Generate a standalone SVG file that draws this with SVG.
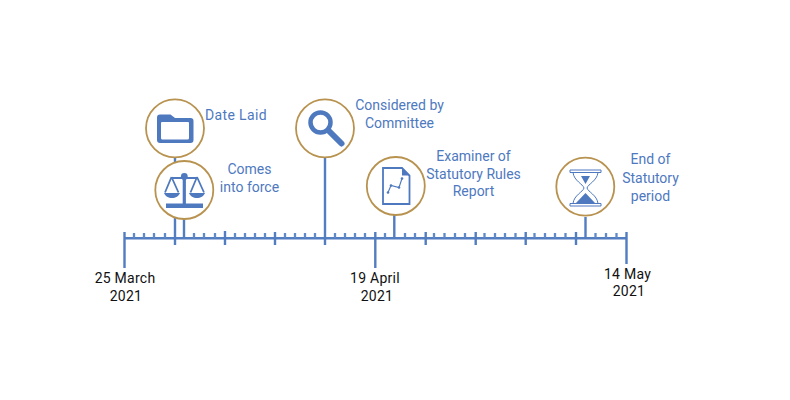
<svg xmlns="http://www.w3.org/2000/svg" width="790" height="400" viewBox="0 0 790 400">
<style>
.c{fill:#fff;stroke:#b8924f;stroke-width:1.800}
.a{stroke:#527dc0;stroke-width:2.400;fill:none}
.m{stroke:#6089c8;stroke-width:2.300;fill:none}
.ic{fill:#4e79bf}
.l{stroke:#4e79bf;fill:none}
text{font-family:"Roboto","Liberation Sans",sans-serif;font-size:14px;text-anchor:middle}
.b{fill:#4e79bf}
.k{fill:#111;letter-spacing:.25px}
</style>
<rect width="790" height="400" fill="#fff"/>
<g id="connectors">
<path class="a" d="M124.500 238.300H626.500"/>
<path class="a" d="M124.500 232V268M175 157V245M225 231V245M275 232V245M325 158V245M375.300 232V268M425.700 232V245M475.700 232V245M525.700 232V245M576 232V245M626.500 232V264M184 219V238M394.300 215V238M585.500 217V238"/>
<path class="m" d="M134 233V238M144 233V238M154 233V238M165 233V238M194 233V238M204 233V238M215 233V238M235 233V238M245 233V238M255 233V238M265 233V238M285 233V238M295 233V238M305 233V238M315 233V238M335 233V238M345 233V238M355 233V238M365 233V238M385 233V238M405 233V238M415 233V238M434 233V238M444.500 233V238M455 233V238M465 233V238M484.500 233V238M495 233V238M505 233V238M515.500 233V238M534.500 233V238M545 233V238M555 233V238M565.500 233V238M595.500 233V238M606 233V238M616.500 233V238"/>
</g>
<g id="date-laid">
<circle class="c" cx="175" cy="128.300" r="29"/>
<path class="ic" d="M157 117.500a3 3 0 0 1 3-3h10.500l4.500 3.500h15.500a3 3 0 0 1 3 3v19a3 3 0 0 1-3 3H160a3 3 0 0 1-3-3zM161 122.500V138a1.500 1.500 0 0 0 1.500 1.500h25a1.500 1.500 0 0 0 1.500-1.500V123a1 1 0 0 0-1-1H162.500a1.500 1.500 0 0 0-1.500.5z" fill-rule="evenodd"/>
<text class="b" x="236" y="120" letter-spacing=".35">Date Laid</text>
</g>
<g id="comes-into-force">
<circle class="c" cx="184.300" cy="190" r="29"/>
<path class="ic" d="M166 203.500h37v4.500h-37zM182.700 177h3.200v27h-3.200z"/>
<circle class="ic" cx="184.300" cy="176.500" r="3.400"/>
<path class="l" stroke-width="1.800" d="M171 178H198M171.500 177L165 192.500M171.500 177L178.500 192.500M197 177L190.500 192.500M197 177L204 192.500"/>
<path class="ic" d="M164 193h16c-1 3-4.500 5-8 5s-7-2-8-5zM189 193h16c-1 3-4.500 5-8 5s-7-2-8-5z"/>
<text class="b" x="249.500" y="174">Comes</text>
<text class="b" x="249.500" y="192">into force</text>
</g>
<g id="considered-by-committee">
<circle class="c" cx="325" cy="128.300" r="29"/>
<circle cx="320.500" cy="122.500" r="10" fill="none" stroke="#4e79bf" stroke-width="4.500"/>
<path d="M329 131L341.500 143.500" stroke="#4e79bf" stroke-width="6" stroke-linecap="round" fill="none"/>
<text class="b" x="399.500" y="110">Considered by</text>
<text class="b" x="399.500" y="128">Committee</text>
</g>
<g id="examiner-report">
<circle class="c" cx="395.800" cy="186" r="29"/>
<path class="l" stroke-width="1.800" d="M383 168H402L409.500 175.500V204H383Z"/>
<path class="ic" d="M402 167.500L410 175.500H402Z"/>
<path class="l" stroke-width="1.100" d="M388 192.500L391 185.500L399 187.500L402 178.500"/>
<g class="ic"><circle cx="388" cy="192.500" r="1.300"/><circle cx="391" cy="185.500" r="1.300"/><circle cx="399" cy="187.500" r="1.300"/><circle cx="402" cy="178.500" r="1.300"/></g>
<text class="b" x="473.500" y="161">Examiner of</text>
<text class="b" x="473.500" y="179">Statutory Rules</text>
<text class="b" x="473.500" y="196">Report</text>
</g>
<g id="end-of-statutory-period">
<circle class="c" cx="585.300" cy="186.700" r="29"/>
<path class="l" stroke-width="1" d="M570 170H601V172.500H570ZM570 203.500H601V206H570ZM573 172.500C574 181 583 184 584 188C583 192 574 195 573 203.500M598 172.500C597 181 588 184 587 188C588 192 597 195 598 203.500"/>
<path class="ic" d="M581 176H590L585.500 184ZM585.500 193L595 203H576Z"/>
<text class="b" x="650.500" y="164">End of</text>
<text class="b" x="650.500" y="183">Statutory</text>
<text class="b" x="650.500" y="201">period</text>
</g>
<g id="date-labels">
<text class="k" x="125" y="283">25 March</text>
<text class="k" x="126" y="301">2021</text>
<text class="k" x="375" y="283">19 April</text>
<text class="k" x="377" y="301">2021</text>
<text class="k" x="627.500" y="279">14 May</text>
<text class="k" x="629" y="296">2021</text>
</g>
</svg>
